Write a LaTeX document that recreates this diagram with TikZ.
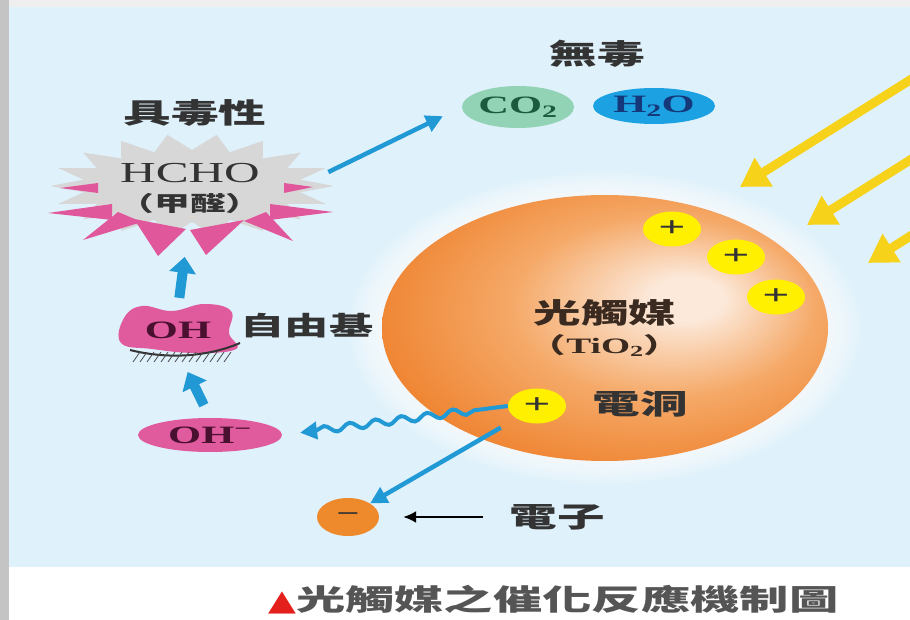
\documentclass[tikz,border=0pt]{standalone}
\usepackage{fontspec}
\setmainfont{Liberation Serif}[FakeStretch=1.7]
\newfontfamily\zh{Noto Sans CJK TC}[FakeStretch=1.7]
\newfontfamily\symb{DejaVu Sans}[FakeStretch=1.25]
\usetikzlibrary{arrows.meta,shapes.geometric,calc,decorations.pathmorphing}

\definecolor{panelblue}{HTML}{DFF1FB}
\definecolor{sideband}{HTML}{C4C4C4}
\definecolor{topband}{HTML}{EFEFEF}
\definecolor{ink}{HTML}{333333}
\definecolor{sphink}{HTML}{3A2A20}
\definecolor{capgray}{HTML}{555555}
\definecolor{capred}{HTML}{E3201B}
\definecolor{flowblue}{HTML}{2199D5}
\definecolor{rayyellow}{HTML}{F7D21A}
\definecolor{holeyellow}{HTML}{FFF000}
\definecolor{sphhi}{HTML}{FCE9DA}
\definecolor{sphmid}{HTML}{F5A968}
\definecolor{sphedge}{HTML}{EE7F2A}
\definecolor{elorange}{HTML}{EE8A2C}
\definecolor{burstgray}{HTML}{D7D7D7}
\definecolor{spikepink}{HTML}{E1579B}
\definecolor{ohpink}{HTML}{E05A9E}
\definecolor{ohink}{HTML}{4A1030}
\definecolor{co2green}{HTML}{92D2B5}
\definecolor{co2ink}{HTML}{1C5A3E}
\definecolor{waterblue}{HTML}{1CA2E2}
\definecolor{waterink}{HTML}{15387A}

% orange ball, lit a little right of centre
\pgfdeclareradialshading{spherebody}{\pgfpoint{10bp}{6bp}}{%
  color(0bp)=(sphhi); color(4bp)=(sphhi); color(17bp)=(sphmid);
  color(32bp)=(sphedge); color(50bp)=(sphedge)}

\newcommand{\fsz}[1]{\fontsize{#1}{#1}\selectfont}

\tikzset{
  tag/.style={font=\zh\bfseries\fsz{28}, text=ink, inner sep=1pt},
  holedot/.style={ellipse, fill=holeyellow, minimum width=58pt, minimum height=35pt,
    inner sep=0pt, font=\bfseries\fsz{28}, text=ink},
  chem/.style={ellipse, inner sep=0pt, font=\bfseries\fsz{25}},
  flow/.style={draw=flowblue, line width=4.5pt, -{Triangle[width=17pt,length=17pt]}},
  fatflow/.style={draw=flowblue, line width=10pt, -{Triangle[width=26pt,length=16pt]}},
  ray/.style={draw=rayyellow, line width=9pt, -{Triangle[width=32pt,length=28pt]}},
}

\begin{document}
\begin{tikzpicture}[x=1pt,y=-1pt]
\useasboundingbox (0,0) rectangle (910,620);

% page and panel
\fill[white] (0,0) rectangle (910,620);
\fill[topband] (0,0) rectangle (910,7);
\fill[panelblue] (9,7) rectangle (910,567);
\fill[sideband] (0,0) rectangle (9,620);

% light coming in
\coordinate (sun1) at (945,58);  \coordinate (hit1) at (740,187);
\coordinate (sun2) at (945,138); \coordinate (hit2) at (807,225);
\coordinate (sun3) at (945,214); \coordinate (hit3) at (868,263);
\foreach \i in {1,2,3}
  \draw[ray] (sun\i) -- (hit\i);

% the catalyst ball with its glow
\foreach \g in {34,30,...,2}
  \fill[white, opacity=0.12] (605,328) ellipse [x radius={(223+\g)*1pt}, y radius={(133+0.7*\g)*1pt}];
\node[ellipse, minimum width=446pt, minimum height=266pt, shade, shading=spherebody,
  align=center, text=sphink, font=\zh\bfseries\fsz{28}] (tio2) at (605,328)
  {光觸媒\\[2pt]{\fsz{22}（\rmfamily TiO\textsubscript{2}\zh）}};

\node[holedot] (h1) at (672,229) {+};
\node[holedot] (h2) at (736,257) {+};
\node[holedot] (h3) at (776,297) {+};
\node[holedot] (hole) at (537,406) {+};
\node[tag] (holetag) at (640,404) {電洞};

% products
\node[tag] (safetag) at (597,54) {無毒};
\node[chem, fill=co2green, text=co2ink, minimum width=112pt, minimum height=42pt] (co2) at (518,107) {CO\textsubscript{2}};
\node[chem, fill=waterblue, text=waterink, minimum width=122pt, minimum height=36pt] (water) at (654,106) {H\textsubscript{2}O};

% formaldehyde burst
\node[tag] (toxictag) at (195,113) {具毒性};
\fill[burstgray] plot[domain=0:360, samples=37, variable=\a]
  ({192+(mod(round(\a/10),2)==0 ? 142 : 110)*cos(\a)},
   {186+(mod(round(\a/10),2)==0 ? 52 : 36)*sin(\a)}) -- cycle;
\foreach \spike in {{(112,204) (48,213) (112,220)}, {(98,183) (60,188) (98,193)},
                    {(118,212) (83,240) (142,222)}, {(134,219) (158,256) (186,229)},
                    {(190,230) (206,255) (244,220)}, {(244,221) (293,241) (266,212)},
                    {(284,183) (313,187) (284,193)}, {(270,204) (333,212) (270,220)}}
  \fill[spikepink] plot coordinates \spike -- cycle;
\node[align=center, text=ink, inner sep=2pt, minimum height=56pt, font=\fsz{29}] (hcho) at (190,188)
  {HCHO\\{\zh\bfseries\fsz{21}（甲醛）}};

% hydroxyl radical
\fill[ohpink] plot[smooth cycle, tension=0.7] coordinates
  {(124,318) (142,306) (172,311) (204,304) (231,311) (229,333) (236,349) (196,353) (152,349) (121,343)};
\draw[black!80, line width=2pt] (130,350) .. controls (170,360) and (210,356) .. (240,343);
\foreach \x in {140,147,...,232}
  \draw[black!70, line width=0.8pt] (\x,352) -- ++(-7,10);
\node[font=\bfseries\fsz{25}, text=ohink, minimum width=100pt, minimum height=44pt, inner sep=0pt] (ohrad) at (178,330) {OH};
\node[tag, font=\zh\bfseries\fsz{26}] (radtag) at (307,326) {自由基};

\node[chem, fill=ohpink, text=ohink, minimum width=144pt, minimum height=34pt] (ohion) at (210,435) {OH\textsuperscript{−}};

% electron
\node[ellipse, fill=elorange, minimum width=62pt, minimum height=38pt, inner sep=0pt,
  text=ink, font=\bfseries\fsz{24}] (electron) at (348,517) {−};
\node[tag] (etag) at (557,517) {電子};

% reaction paths
\draw[flow, shorten <=72pt, shorten >=21pt] (hcho.-12) -- (co2.west);
\draw[fatflow, shorten <=10pt, shorten >=41pt] (ohrad.north) -- (hcho.south);
\draw[fatflow, shorten <=14pt, shorten >=22pt] (ohion.north) -- (ohrad.south);
\draw[flow, line width=4pt, shorten >=18pt, decorate, decoration={snake, amplitude=3.5pt, segment length=26pt,
  pre length=34pt, post length=30pt}] (hole.west) -- (ohion.east);
\draw[flow, shorten <=18pt] (hole.south west) -- (electron.north east);
\draw[black, line width=2pt, -{Latex[length=13pt,width=12pt]}, shorten <=25pt, shorten >=24pt]
  (etag.west) -- (electron.east);

% caption
\node[anchor=west, inner sep=0pt, text=capgray, font=\zh\bfseries\fsz{29}] (caption) at (268,600)
  {{\symb\color{capred}▲}光觸媒之催化反應機制圖};
\end{tikzpicture}
\end{document}
